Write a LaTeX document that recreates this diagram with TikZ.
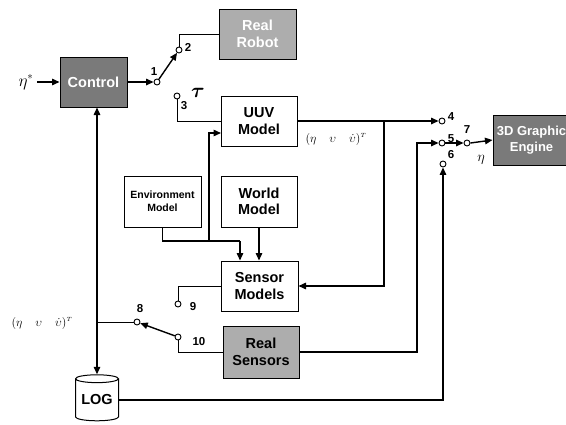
\documentclass[tikz,border=0pt]{standalone}
\usepackage{amsmath}
\usepackage{bm}
\usepackage{fontspec}
\setsansfont{Liberation Sans}
\usetikzlibrary{arrows.meta,shapes.geometric}
\tikzset{
  blk/.style={draw, line width=1pt, font=\sffamily\bfseries\fontsize{14.5}{16.5}\selectfont, align=center, inner sep=0pt},
  darkblk/.style={blk, fill=black!52, text=white},
  lightblk/.style={blk, fill=black!32},
  pin/.style={circle, draw, line width=0.9pt, fill=white, minimum size=6pt, inner sep=0pt},
  num/.style={font=\sffamily\bfseries\fontsize{11.5}{12}\selectfont, inner sep=0pt},
  ln/.style={line width=1.4pt},
  tn/.style={line width=0.9pt},
  arr/.style={ln, -{Triangle[length=7.5pt,width=6.5pt]}},
  tarr/.style={tn, -{Triangle[length=7.5pt,width=6.5pt]}},
  mth/.style={inner sep=0pt, font=\fontsize{13}{13}\selectfont}
}
\begin{document}
\begin{tikzpicture}[x=1pt,y=-1pt]
\useasboundingbox (0,0) rectangle (566,424);
% blocks
\node[darkblk, minimum width=67pt, minimum height=50pt] (ctrl) at (93.5,82) {Control};
\node[lightblk, text=white, minimum width=77pt, minimum height=50pt] (robot) at (257.5,34) {Real\\Robot};
\node[blk, minimum width=76pt, minimum height=50pt] (uuv) at (259,121) {UUV\\Model};
\node[blk, font=\sffamily\bfseries\fontsize{10.5}{13}\selectfont, minimum width=77pt, minimum height=51pt] (env) at (162.5,201.5) {Environment\\Model};
\node[blk, minimum width=76pt, minimum height=51pt] (world) at (259,201.5) {World\\Model};
\node[blk, minimum width=77pt, minimum height=50pt] (sensor) at (259.5,286) {Sensor\\Models};
\node[lightblk, minimum width=76pt, minimum height=52pt] (rs) at (261,352) {Real\\Sensors};
\node[darkblk, font=\sffamily\bfseries\fontsize{13}{15.5}\selectfont, minimum width=77pt, minimum height=50pt] (gfx) at (531.5,140) {3D Graphic\\Engine};
\node[cylinder, shape border rotate=90, draw, line width=1pt, aspect=0.25, minimum width=43pt, minimum height=46pt, font=\sffamily\bfseries\fontsize{14.5}{16}\selectfont, inner sep=0pt] (log) at (97,400) {LOG};
% switch pins
\node[pin] (n1) at (157,82) {};
\node[pin] (n2) at (179,50) {};
\node[pin] (n3) at (177,96) {};
\node[pin] (n4) at (442,121) {};
\node[pin] (n5) at (442,143) {};
\node[pin] (n6) at (443,164) {};
\node[pin] (n7) at (467,143) {};
\node[pin] (n8) at (137,322) {};
\node[pin] (n9) at (178,304) {};
\node[pin] (n10) at (178,337) {};
% labels
\node[num] (l1) at (154,72) {1};
\node[num] (l2) at (188,47) {2};
\node[num] (l3) at (184,106) {3};
\node[inner sep=0pt, font=\fontsize{21}{21}\selectfont] (tau) at (198,93) {$\bm{\tau}$};
\node[num] (l4) at (451,117) {4};
\node[num] (l5) at (451,139) {5};
\node[num] (l6) at (451,155) {6};
\node[num] (l7) at (467,130) {7};
\node[inner sep=0pt, font=\fontsize{15}{15}\selectfont] (eta) at (481,160) {$\eta$};
\node[num] (l8) at (140,309) {8};
\node[num] (l9) at (193,307) {9};
\node[num] (l10) at (199,342) {10};
\node[inner sep=0pt, font=\fontsize{16}{16}\selectfont] (etastar) at (26,82) {$\eta^{*}$};
\node[mth] (st1) at (336,139) {$(\eta\quad\upsilon\quad\dot{\upsilon})^{\scriptscriptstyle T}$};
\node[mth] (st2) at (42,323) {$(\eta\quad\upsilon\quad\dot{\upsilon})^{\scriptscriptstyle T}$};
% coordinates
\coordinate (ej) at (240,241);
\coordinate (uj) at (209,241);
\coordinate (uin) at (221,133);
\coordinate (k) at (384,121);
\coordinate (c5) at (417,143);
\coordinate (lj) at (97,322);
\coordinate (es) at (37,82);
% connectors
\draw[arr] (es) -- (ctrl.west);
\draw[arr] (ctrl.east) -- (n1.west);
\draw[arr] (n1) -- (n2);
\draw[tn] (n2.north) |- (robot.west);
\draw[tn] (n3.south) |- (uuv.west);
\draw[ln] (env.south) |- (ej);
\draw[arr] (ej) -- (ej |- sensor.north);
\draw[arr] (uj) |- (uin);
\draw[arr] (world.south) -- (world.south |- sensor.north);
\draw[arr] (uuv.east) -- (n4.west);
\draw[arr] (k) |- (sensor.east);
\draw[arr] (rs.east) -| (c5) -- (n5.west);
\draw[arr] (n5) -- (n7);
\draw[arr] (n7.east) -- (gfx.west);
\draw[arr] (log.east) -| (n6.south);
\draw[tn] (n9.north) |- (sensor.west);
\draw[tn] (n10.south) |- (rs.west);
\draw[arr] (n10) -- (n8);
\draw[tn] (n8.west) -- (lj);
\draw[ln, {Triangle[length=7.5pt,width=6.5pt]}-{Triangle[length=7.5pt,width=6.5pt]}] (log.top) -- (log.top |- ctrl.south);
\end{tikzpicture}
\end{document}
